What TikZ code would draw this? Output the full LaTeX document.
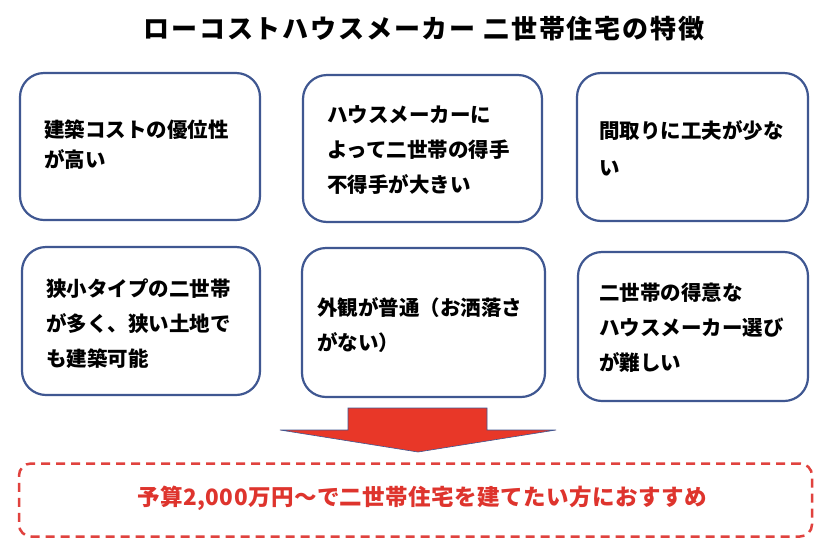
\documentclass[tikz,border=0pt]{standalone}
\usepackage{fontspec}
\setmainfont{Noto Sans CJK JP}
\newfontfamily\jp{Noto Sans CJK JP}
\newfontfamily\jpt[LetterSpace=7]{Noto Sans CJK JP}
\newfontfamily\jpr[LetterSpace=2]{Noto Sans CJK JP}
\definecolor{boxblue}{RGB}{63,87,145}
\definecolor{arrowred}{RGB}{232,55,40}
\definecolor{dashred}{RGB}{224,66,62}
\definecolor{textred}{RGB}{222,52,45}
\begin{document}
\begin{tikzpicture}[x=1pt,y=-1pt,
  box/.style={draw=boxblue, line width=2.2pt, rounded corners=24pt, fill=white, inner sep=0pt},
  txt/.style={anchor=west, align=left, inner sep=0pt, font=\jp\bfseries\fontsize{20.5}{35}\selectfont},
]
\useasboundingbox (0,0) rectangle (828,558);
\fill[white] (0,0) rectangle (828,558);

\node[font=\jpt\bfseries\fontsize{26}{26}\selectfont, inner sep=0pt] (title) at (424,29) {ローコストハウスメーカー 二世帯住宅の特徴};

\node[box, minimum width=240pt, minimum height=147pt] (b1) at (140,146.5) {};
\node[box, minimum width=239pt, minimum height=147pt] (b2) at (422.5,148.5) {};
\node[box, minimum width=231pt, minimum height=148pt] (b3) at (692.5,147) {};
\node[box, minimum width=238pt, minimum height=148pt] (b4) at (141,321) {};
\node[box, minimum width=243pt, minimum height=149pt] (b5) at (423.5,322.5) {};
\node[box, minimum width=230pt, minimum height=149pt] (b6) at (693,326.5) {};

\node[txt, font=\jp\bfseries\fontsize{20.5}{30}\selectfont] (t1) at ([xshift=25pt,yshift=2pt]b1.west) {建築コストの優位性\\が高い};
\node[txt] (t2) at ([xshift=25pt,yshift=-1.5pt]b2.west) {ハウスメーカーに\\よって二世帯の得手\\不得手が大きい};
\node[txt, font=\jp\bfseries\fontsize{20.5}{37}\selectfont] (t3) at ([xshift=23pt,yshift=-1.5pt]b3.west) {間取りに工夫が少な\\い};
\node[txt] (t4) at ([xshift=25pt,yshift=-2.5pt]b4.west) {狭小タイプの二世帯\\が多く、狭い土地で\\も建築可能};
\node[txt] (t5) at ([xshift=16pt,yshift=-3pt]b5.west) {外観が普通（お洒落さ\\がない）};
\node[txt] (t6) at ([xshift=22pt,yshift=-1pt]b6.west) {二世帯の得意な\\ハウスメーカー選び\\が難しい};

\filldraw[fill=arrowred, draw=boxblue, line width=0.6pt]
  (348,408) -- (487,408) -- (487,430) -- (556,430) -- (418,452) -- (280,430) -- (348,430) -- cycle;

\node[draw=dashred, line width=2.5pt, dash pattern=on 9pt off 6pt, rounded corners=12pt,
  minimum width=793pt, minimum height=73pt, inner sep=0pt] (rec) at (415.5,500) {};
\node[font=\jpr\bfseries\fontsize{22.5}{22.5}\selectfont, text=textred, inner sep=0pt] (msg) at (422,498) {予算2,000万円〜で二世帯住宅を建てたい方におすすめ};
\end{tikzpicture}
\end{document}
